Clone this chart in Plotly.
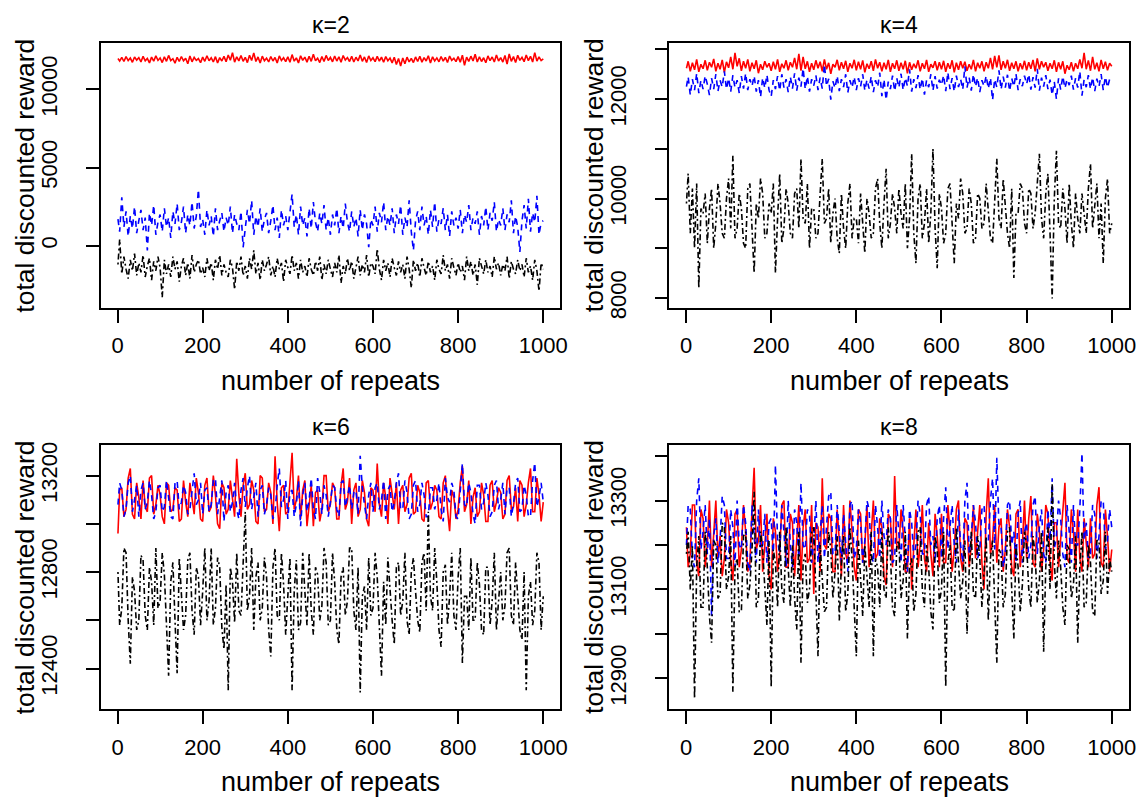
import plotly.graph_objects as go
from plotly.subplots import make_subplots

# x positions (every 5th repeat)
repeats = [1] + list(range(5, 1001, 5))

# kappa = 2
k2_red = [11980, 11820, 12060, 11790, 12100, 11850, 12010, 11740, 12080, 11880,
          12040, 11760, 12120, 11830, 11990, 11700, 12070, 11810, 12150, 11860,
          12020, 11720, 12090, 11800, 12180, 11850, 11970, 11680, 12060, 11790,
          12110, 11830, 12000, 11650, 12140, 11770, 12050, 11860, 11980, 11710,
          12070, 11800, 12160, 11840, 12030, 11760, 12100, 11690, 12040, 11820,
          12120, 11780, 12210, 11870, 12350, 11750, 12090, 11830, 12170, 11800,
          12060, 11720, 12190, 11850, 12340, 11790, 12080, 11700, 12130, 11840,
          12000, 11760, 12110, 11820, 12050, 11690, 12150, 11850, 12030, 11780,
          12090, 11740, 12230, 11810, 12020, 11700, 12160, 11860, 12070, 11750,
          12130, 11800, 12260, 11830, 12000, 11720, 12110, 11790, 12180, 11850,
          12050, 11770, 12140, 11820, 12090, 11740, 12170, 11880, 12040, 11790,
          12120, 11760, 12060, 11830, 12200, 11800, 12080, 11720, 12150, 11850,
          12030, 11780, 12120, 11810, 12070, 11740, 12100, 11840, 12010, 11700,
          12060, 11600, 11980, 11500, 12020, 11640, 12070, 11760, 11990, 11720,
          12080, 11790, 12130, 11750, 12040, 11820, 12160, 11700, 12090, 11830,
          12020, 11770, 12110, 11810, 12060, 11730, 12140, 11860, 12000, 11780,
          12100, 11740, 12190, 11550, 12070, 11800, 12130, 11820, 12250, 11760,
          12090, 11790, 12030, 11710, 12150, 11840, 12080, 11760, 12210, 11820,
          12040, 11750, 12170, 11620, 12270, 11800, 12100, 11730, 12190, 11860,
          12060, 11780, 12210, 11840, 12120, 11760, 12360, 11810, 12090, 11850,
          11960]
k2_blue = [1700, 900, 3100, 1200, 2200, 600, 1900, 1100, 2500, 800,
           1600, 2300, 1000, 1800, -300, 2100, 1300, 2600, 700, 1500,
           2000, 900, 2400, 1200, 1800, 500, 2200, 1400, 2700, 1000,
           1500, 2500, 800, 2000, 1300, 2800, 1100, 1900, 3600, 1200,
           1700, 700, 2300, 1300, 1900, 600, 2400, 1000, 1600, 2100,
           900, 1800, 1300, 2500, 800, 2000, 1400, 1000, 2200, -100,
           1100, 2300, 1400, 2900, 700, 1900, 1200, 2400, 900, 1700,
           2100, 800, 1600, 2600, 1000, 1800, 500, 2300, 1300, 1900,
           1000, 2200, 3300, 1200, 2000, 700, 2500, 1300, 1800, 600,
           2400, 1100, 2800, 1500, 900, 2100, 1400, 2600, 1000, 1800,
           700, 2000, 1300, 2400, 800, 1900, 1100, 2700, 1500, 900,
           2200, 1200, 1800, 600, 2300, 1000, 2000, 1400, -100, 1700,
           1300, 2500, 900, 2100, 1500, 2800, 1000, 1900, 1300, 2400,
           800, 2000, 1400, 2600, 700, 1800, 1200, 2900, 900, -300,
           1600, 2200, 1000, 2500, 1300, 1900, 700, 2300, 1200, 2800,
           900, 1700, 1400, 2400, 1000, 2000, 600, 2200, 1300, 1800,
           1100, 2300, 800, 2000, 1500, 2600, 1000, 1800, 1400, 2200,
           700, 1900, 1300, 2500, 1000, 2100, 1600, 2800, 900, 1700,
           1300, 2400, 1000, 2000, 1500, 2900, 800, 1900, 1200, -400,
           1600, 2600, 1100, 3000, 900, 2100, 1500, 3200, 700, 1500,
           1600]
k2_black = [-1200, 400, -1800, -700, -1500, -2100, -900, -1600, -500, -1900,
            -1100, -1700, -600, -2000, -1300, -800, -2200, -1000, -1600, -700,
            -1400, -3300, -900, -1800, -1200, -2000, -700, -1500, -1000, -2300,
            -1300, -800, -1900, -1100, -2100, -600, -1700, -1200, -900, -1800,
            -1400, -2000, -800, -1600, -1100, -2200, -900, -1500, -600, -1900,
            -1200, -1700, -2000, -900, -1400, -2800, -1000, -1600, -700, -1900,
            -1300, -2100, -800, -1500, -300, -1800, -1100, -2200, -900, -1600,
            -1200, -700, -1900, -1300, -2000, -800, -1500, -1100, -2300, -900,
            -1400, -1800, -600, -1600, -1100, -2100, -900, -1700, -1300, -2000,
            -800, -1500, -1900, -1000, -1600, -700, -2200, -1200, -1800, -900,
            -1500, -2000, -1100, -1700, -600, -2400, -1300, -1800, -800, -1600,
            -1000, -2100, -1400, -700, -1900, -1200, -1700, -600, -2000, -1100,
            -1300, -1800, -200, -1500, -2200, -900, -1600, -1100, -2000, -800,
            -1400, -1900, -1000, -1700, -1200, -2100, -700, -1500, -2700, -900,
            -1600, -1100, -2000, -800, -1400, -1900, -1000, -1700, -1300, -2200,
            -900, -1500, -1800, -600, -1600, -1200, -2100, -800, -1400, -1900,
            -1100, -1700, -1300, -2200, -700, -1600, -1000, -1900, -1200, -2500,
            -800, -1400, -1800, -900, -1700, -1300, -2000, -700, -1500, -1100,
            -1900, -1200, -1600, -700, -2100, -1000, -1500, -1800, -900, -1600,
            -1200, -2000, -800, -1700, -1300, -2200, -900, -1600, -2900, -1100,
            -1500]

# kappa = 4
k4_red = [12620, 12760, 12560, 12730, 12590, 12800, 12550, 12700, 12610, 12780,
          12580, 12740, 12640, 12810, 12560, 12720, 12600, 12790, 12540, 12750,
          12630, 12850, 12600, 12930, 12660, 12820, 12570, 12760, 12620, 12800,
          12560, 12730, 12610, 12780, 12520, 12700, 12590, 12760, 12640, 12720,
          12570, 12750, 12600, 12800, 12550, 12710, 12620, 12780, 12580, 12740,
          12640, 12830, 12600, 12910, 12570, 12850, 12610, 12760, 12550, 12720,
          12590, 12780, 12620, 12750, 12560, 12800, 12600, 12730, 12510, 12700,
          12640, 12790, 12580, 12740, 12610, 12770, 12550, 12720, 12620, 12790,
          12580, 12750, 12600, 12780, 12540, 12710, 12610, 12760, 12570, 12800,
          12620, 12740, 12560, 12730, 12600, 12790, 12550, 12720, 12610, 12780,
          12570, 12730, 12600, 12770, 12520, 12740, 12590, 12710, 12620, 12780,
          12560, 12720, 12610, 12790, 12550, 12700, 12630, 12760, 12580, 12740,
          12600, 12770, 12550, 12720, 12610, 12780, 12540, 12730, 12590, 12760,
          12620, 12750, 12570, 12700, 12600, 12790, 12560, 12730, 12620, 12760,
          12560, 12740, 12620, 12830, 12600, 12870, 12640, 12880, 12590, 12760,
          12620, 12790, 12570, 12730, 12610, 12760, 12560, 12720, 12600, 12770,
          12580, 12740, 12610, 12790, 12560, 12820, 12600, 12760, 12640, 12740,
          12570, 12720, 12610, 12780, 12550, 12740, 12600, 12760, 12510, 12680,
          12590, 12740, 12560, 12720, 12610, 12800, 12620, 12930, 12600, 12780,
          12570, 12850, 12600, 12730, 12560, 12790, 12610, 12750, 12580, 12720,
          12660]
k4_blue = [12250, 12450, 12080, 12400, 12180, 12520, 12120, 12380, 12200, 12470,
           12300, 12080, 12420, 12200, 12500, 12160, 12380, 12240, 12560, 12200,
           12420, 12150, 12480, 12230, 12380, 12120, 12460, 12210, 12520, 12180,
           12400, 12260, 12470, 12150, 12380, 12040, 12430, 12220, 12490, 12180,
           12050, 12380, 12200, 12460, 12170, 12500, 12230, 12400, 12140, 12450,
           12210, 12520, 12170, 12430, 12250, 12620, 12200, 12460, 12150, 12400,
           12270, 12480, 12180, 12430, 12210, 12700, 12260, 12410, 11990, 12360,
           12220, 12470, 12160, 12400, 12240, 12500, 12130, 12380, 12230, 12450,
           12180, 12420, 12250, 12500, 12170, 12390, 12210, 12460, 12140, 12380,
           12240, 12530, 12060, 12400, 11980, 12350, 12200, 12470, 12160, 12420,
           12230, 12510, 12180, 12430, 12260, 12600, 12150, 12400, 12220, 12480,
           12190, 12420, 12090, 12380, 12240, 12500, 12170, 12460, 12210, 12390,
           12280, 12480, 12160, 12540, 12200, 12420, 12150, 12470, 12240, 12400,
           12190, 12660, 12230, 12440, 12170, 12500, 12250, 12430, 12140, 12380,
           12260, 12470, 12210, 12430, 11980, 12400, 12240, 12580, 12190, 12450,
           12230, 12490, 12160, 12420, 12250, 12510, 12180, 12400, 12260, 12470,
           12300, 12500, 12190, 12440, 12230, 12610, 12170, 12430, 12250, 12480,
           12200, 12390, 12080, 12350, 12000, 12420, 12190, 12460, 12220, 12400,
           12280, 12470, 12190, 12420, 12230, 12560, 12070, 12390, 12240, 12480,
           12200, 12440, 12160, 12410, 12250, 12500, 12180, 12450, 12230, 12400,
           12350]
k4_black = [9900, 10500, 9300, 10200, 9000, 10300, 8200, 9800, 9700, 10100,
            9100, 9800, 10200, 9000, 9500, 10300, 9900, 9300, 9200, 10000,
            10400, 9400, 10860, 9200, 9400, 10100, 9800, 9100, 9000, 10200,
            10300, 9400, 8500, 9900, 9600, 10400, 10100, 9200, 9300, 9900,
            9700, 10300, 8500, 9600, 10500, 9100, 9400, 10200, 9900, 9300,
            9200, 10100, 10200, 9400, 10800, 9600, 9500, 10300, 9000, 9800,
            9800, 9200, 9300, 10100, 10800, 9500, 9600, 10200, 9100, 9700,
            10000, 9200, 8900, 10100, 9400, 9000, 9900, 10300, 9200, 9600,
            9600, 9100, 10100, 9500, 8900, 10000, 9700, 9200, 9300, 10200,
            10400, 9500, 9000, 9900, 10600, 9200, 9500, 10100, 9800, 9300,
            10200, 9700, 9400, 10300, 9000, 9600, 10900, 9300, 8700, 10000,
            10300, 9200, 9500, 10200, 9100, 9700, 11000, 9400, 8600, 10100,
            9800, 9100, 9300, 10200, 10300, 9500, 8700, 9900, 9600, 10400,
            10100, 9300, 9400, 10200, 9900, 9100, 9200, 10100, 10000, 9400,
            9500, 10300, 9800, 9200, 9100, 10100, 10800, 9600, 9400, 10400,
            9900, 9300, 9000, 10200, 8400, 9700, 9700, 10300, 10200, 9500,
            9300, 10200, 10100, 9400, 9700, 10300, 10900, 9600, 9200, 10100,
            10500, 9300, 7990, 10000, 10960, 9500, 9400, 10200, 9800, 9100,
            10300, 9500, 9000, 10100, 9600, 9300, 10100, 9700, 9300, 10200,
            10700, 9400, 9800, 10300, 9200, 9900, 8700, 10000, 10400, 9300,
            9500]

# kappa = 6
k6_red = [12960, 13140, 13150, 13030, 13060, 13190, 13230, 13040, 13020, 13170,
          13110, 13020, 13180, 13070, 13050, 13190, 13200, 13040, 13080, 13160,
          13120, 13030, 13000, 13170, 13160, 13050, 13060, 13150, 13140, 13010,
          13020, 13180, 13090, 13030, 13170, 13100, 13040, 13190, 13130, 13020,
          13010, 13160, 13190, 13050, 13070, 13200, 13120, 13000, 12980, 13170,
          13150, 13040, 13060, 13180, 13100, 13030, 13270, 13120, 13030, 13160,
          13210, 13060, 13080, 13180, 13140, 13010, 13000, 13200, 13190, 13050,
          13060, 13170, 13130, 13000, 13280, 13090, 12970, 13150, 13160, 13040,
          13050, 13190, 13295, 13060, 13100, 13200, 13020, 13140, 13180, 12990,
          13070, 13160, 12990, 13130, 13140, 13010, 13060, 13200, 13200, 13050,
          13080, 13170, 13150, 13020, 13020, 13160, 13230, 13060, 13090, 13190,
          13000, 13140, 13170, 13030, 13060, 13180, 13130, 13020, 12990, 13150,
          13140, 13050, 13250, 13080, 13030, 13170, 13110, 13000, 13190, 13120,
          13060, 13170, 13000, 13140, 13160, 13050, 13080, 13190, 13210, 13040,
          13050, 13160, 13130, 13020, 13010, 13170, 13180, 13060, 13090, 13160,
          13140, 13030, 13020, 13170, 13200, 13060, 12970, 13140, 13110, 13020,
          13060, 13170, 13240, 13050, 13080, 13180, 13000, 13110, 13150, 13030,
          13050, 13170, 13120, 13010, 13010, 13160, 13180, 13050, 13090, 13150,
          13130, 13020, 13040, 13180, 13200, 13060, 13070, 13150, 13010, 13180,
          13160, 13030, 13080, 13170, 13230, 13050, 13050, 13190, 13120, 13010,
          13090]
k6_blue = [13080, 13170, 13140, 13030, 13060, 13170, 13200, 13050, 13100, 13160,
           13030, 13140, 13170, 13060, 13090, 13180, 13120, 13020, 13050, 13150,
           13160, 13050, 13070, 13180, 13110, 13030, 13020, 13170, 13180, 13060,
           13090, 13160, 13130, 13040, 13060, 13150, 13210, 13080, 13100, 13170,
           13040, 13140, 13150, 13050, 13080, 13180, 13190, 13040, 13120, 13180,
           13010, 13130, 13160, 13050, 13090, 13170, 13060, 13020, 13140, 13190,
           13070, 13150, 13200, 13060, 13110, 13170, 13030, 13140, 13160, 13040,
           13080, 13150, 13120, 13020, 13050, 13160, 13230, 13070, 13100, 13180,
           13020, 13130, 13140, 13030, 13080, 13180, 12990, 13120, 13170, 13050,
           13100, 13190, 13060, 13020, 13190, 13130, 13040, 13160, 13120, 13030,
           13090, 13160, 13150, 13060, 13030, 13170, 13180, 13070, 13110, 13160,
           13060, 13130, 13140, 13040, 13282, 13150, 13080, 13020, 13120, 13170,
           13050, 13150, 13170, 13060, 13100, 13180, 13020, 13140, 13160, 13050,
           13090, 13170, 13210, 13060, 13060, 13180, 13130, 13020, 13040, 13160,
           13180, 13050, 13080, 13170, 13120, 13030, 13030, 13150, 13150, 13060,
           13100, 13170, 13060, 13010, 13190, 13110, 13090, 13170, 13140, 13030,
           13020, 13150, 13250, 13080, 13070, 13170, 13130, 13040, 13000, 13160,
           13160, 13060, 13090, 13170, 13120, 13030, 13050, 13160, 13180, 13060,
           13100, 13170, 13040, 13150, 13150, 13030, 13080, 13170, 13190, 13050,
           13060, 13160, 13120, 13030, 13030, 13180, 13254, 13070, 13110, 13170,
           13090]
k6_black = [12800, 12580, 12650, 12900, 12880, 12600, 12420, 12780, 12720, 12560,
            12600, 12870, 12850, 12620, 12560, 12820, 12760, 12580, 12900, 12650,
            12680, 12880, 12790, 12560, 12370, 12760, 12840, 12600, 12380, 12860,
            12700, 12560, 12620, 12850, 12880, 12640, 12540, 12820, 12780, 12580,
            12720, 12900, 12600, 12680, 12900, 12580, 12650, 12860, 12820, 12570,
            12480, 12750, 12310, 12820, 12760, 12590, 12880, 12640, 12620, 12870,
            13050, 12640, 12700, 12900, 12560, 12780, 12840, 12600, 12650, 12860,
            12780, 12560, 12450, 12820, 12900, 12620, 12600, 12880, 12750, 12540,
            12680, 12860, 12310, 12720, 12850, 12560, 12590, 12880, 12720, 12580,
            12880, 12640, 12540, 12820, 12790, 12600, 12660, 12900, 12840, 12580,
            12600, 12880, 12760, 12560, 12500, 12780, 12820, 12620, 12680, 12900,
            12900, 12640, 12560, 12820, 12301, 12700, 12740, 12560, 12860, 12620,
            12650, 12880, 12780, 12570, 12370, 12760, 12580, 12860, 12720, 12600,
            12500, 12820, 12840, 12620, 12680, 12880, 12600, 12540, 12800, 12860,
            12720, 12600, 12550, 12840, 12880, 12640, 13050, 12700, 12640, 12900,
            12760, 12560, 12490, 12800, 12830, 12580, 12700, 12880, 12620, 12560,
            12780, 12900, 12423, 12700, 12700, 12560, 12860, 12600, 12600, 12840,
            12750, 12560, 12540, 12820, 12820, 12580, 12680, 12880, 12560, 12700,
            12800, 12600, 12660, 12880, 12900, 12620, 12580, 12840, 12720, 12560,
            12520, 12800, 12310, 12700, 12760, 12580, 12640, 12880, 12840, 12560,
            12700]

# kappa = 8
k8_red = [13240, 13150, 13180, 13290, 13290, 13160, 13130, 13280, 13260, 13150,
          13200, 13300, 13150, 13230, 13300, 13170, 13220, 13130, 13170, 13280,
          13250, 13160, 13120, 13270, 13280, 13150, 13190, 13290, 13230, 13140,
          13160, 13280, 13374, 13190, 13210, 13290, 13140, 13200, 13270, 13130,
          13100, 13260, 13230, 13140, 13180, 13290, 13300, 13150, 13150, 13270,
          13250, 13130, 13200, 13290, 13120, 13240, 13280, 13160, 13170, 13290,
          13090, 13250, 13240, 13140, 13350, 13200, 13190, 13270, 13260, 13140,
          13140, 13280, 13210, 13130, 13290, 13180, 13160, 13300, 13230, 13150,
          13120, 13280, 13270, 13160, 13200, 13290, 13150, 13240, 13300, 13170,
          13180, 13260, 13240, 13130, 13110, 13270, 13260, 13150, 13355, 13200,
          13190, 13280, 13230, 13140, 13140, 13260, 13100, 13200, 13280, 13150,
          13200, 13290, 13170, 13140, 13250, 13180, 13130, 13270, 13220, 13150,
          13270, 13160, 13160, 13290, 13230, 13140, 13190, 13280, 13300, 13170,
          13140, 13260, 13250, 13150, 13200, 13290, 13170, 13230, 13290, 13160,
          13100, 13270, 13350, 13180, 13210, 13290, 13160, 13240, 13260, 13140,
          13190, 13280, 13240, 13150, 13130, 13270, 13280, 13150, 13200, 13300,
          13170, 13260, 13310, 13160, 13150, 13270, 13230, 13140, 13190, 13290,
          13270, 13160, 13120, 13250, 13250, 13150, 13210, 13290, 13340, 13170,
          13160, 13280, 13230, 13140, 13280, 13170, 13140, 13260, 13200, 13150,
          13260, 13170, 13180, 13290, 13330, 13160, 13150, 13280, 13220, 13140,
          13190]
k8_blue = [13200, 13290, 13280, 13170, 13150, 13300, 13350, 13190, 13230, 13290,
           13180, 13260, 13040, 13220, 13260, 13160, 13210, 13310, 13290, 13170,
           13170, 13280, 13240, 13150, 13300, 13200, 13190, 13290, 13250, 13160,
           13140, 13290, 13220, 13160, 13280, 13190, 13200, 13270, 13160, 13250,
           13260, 13170, 13380, 13210, 13180, 13290, 13230, 13150, 13300, 13200,
           13150, 13280, 13250, 13170, 13340, 13200, 13190, 13280, 13270, 13160,
           13210, 13300, 13160, 13230, 13290, 13170, 13240, 13310, 13320, 13180,
           13180, 13290, 13230, 13160, 13270, 13200, 13140, 13290, 13300, 13170,
           13190, 13280, 13250, 13160, 13210, 13300, 13280, 13180, 13160, 13290,
           13240, 13170, 13300, 13220, 13200, 13280, 13260, 13160, 13170, 13290,
           13230, 13160, 13290, 13200, 13140, 13280, 13250, 13170, 13200, 13300,
           13270, 13180, 13180, 13290, 13310, 13200, 13220, 13160, 13260, 13290,
           13170, 13260, 13330, 13190, 13240, 13290, 13200, 13160, 13280, 13200,
           13160, 13300, 13340, 13180, 13220, 13290, 13250, 13170, 13190, 13280,
           13290, 13200, 13210, 13300, 13350, 13190, 13396, 13240, 13240, 13150,
           13180, 13290, 13300, 13200, 13230, 13160, 13270, 13300, 13160, 13230,
           13250, 13170, 13200, 13290, 13310, 13180, 13240, 13280, 13180, 13160,
           13280, 13210, 13350, 13190, 13220, 13300, 13260, 13180, 13150, 13290,
           13230, 13160, 13290, 13200, 13200, 13280, 13407, 13210, 13250, 13170,
           13180, 13290, 13270, 13170, 13220, 13300, 13300, 13190, 13210, 13280,
           13240]
k8_black = [13180, 13230, 13100, 13200, 12854, 13150, 13220, 13060, 13060, 13230,
            13150, 13040, 12980, 13210, 13200, 13080, 13090, 13250, 13240, 13100,
            13130, 13220, 12870, 13150, 13170, 13050, 13050, 13220, 13230, 13080,
            13110, 13190, 13320, 13060, 13080, 13230, 13190, 13100, 13020, 13210,
            12880, 13190, 13160, 13060, 13230, 13100, 13070, 13240, 13140, 13060,
            13200, 13080, 13010, 13230, 12935, 13160, 13180, 13070, 13100, 13230,
            13240, 13090, 12950, 13200, 13120, 13050, 13060, 13230, 13190, 13080,
            13140, 13220, 13030, 13160, 13220, 13050, 13090, 13240, 13170, 13060,
            12950, 13210, 13110, 13040, 13200, 13130, 13060, 13230, 12950, 13170,
            13150, 13060, 13230, 13100, 13080, 13240, 13180, 13060, 13040, 13200,
            13210, 13080, 13120, 13230, 12990, 13150, 13170, 13050, 13090, 13230,
            13240, 13100, 13060, 13200, 13150, 13050, 13010, 13220, 13190, 13070,
            13100, 13230, 12880, 13160, 13200, 13060, 13050, 13240, 13160, 13080,
            13120, 13210, 13000, 13140, 13230, 13090, 13080, 13220, 13170, 13060,
            13140, 13220, 13030, 13170, 13210, 13050, 12935, 13190, 13180, 13060,
            13090, 13230, 13240, 13100, 12990, 13200, 13150, 13050, 13110, 13230,
            13200, 13100, 13060, 13220, 13180, 13070, 13120, 13230, 12960, 13150,
            13240, 13100, 13337, 13160, 13080, 13210, 13150, 13060, 13020, 13200,
            13190, 13080, 13110, 13220, 12980, 13150, 13230, 13060, 13070, 13200,
            13160, 13050, 13040, 13210, 13210, 13090, 13120, 13230, 13090, 13170,
            13140]

# tick labels
x_ticks = [0, 200, 400, 600, 800, 1000]
k2_yticks = [0, 5000, 10000]
k2_ylabels = ["0", "5000", "10000"]
k4_yticks = [8000, 9000, 10000, 11000, 12000, 13000]
k4_ylabels = ["8000", "", "10000", "", "12000", ""]
k6_yticks = [12400, 12600, 12800, 13000, 13200]
k6_ylabels = ["12400", "", "12800", "", "13200"]
k8_yticks = [12900, 13000, 13100, 13200, 13300, 13400]
k8_ylabels = ["12900", "", "13100", "", "13300", ""]

FONT = "Liberation Sans, Arial, sans-serif"
W, H = 1144, 803

panels = [
    ("κ=2", k2_red, k2_blue, k2_black, [-3972, 12989], k2_yticks, k2_ylabels),
    ("κ=4", k4_red, k4_blue, k4_black, [7802, 13133], k4_yticks, k4_ylabels),
    ("κ=6", k6_red, k6_blue, k6_black, [12230, 13329], k6_yticks, k6_ylabels),
    ("κ=8", k8_red, k8_blue, k8_black, [12830, 13426], k8_yticks, k8_ylabels),
]

# plot boxes in pixels: left, right, top, bottom
boxes = [
    (93.5, 555.7, 33.3, 302.7),
    (665.5, 1127.7, 33.3, 302.7),
    (93.5, 555.7, 441.7, 711.0),
    (665.5, 1127.7, 441.7, 711.0),
]

fig = make_subplots(rows=2, cols=2)

annotations = []
for i, (title, red, blue, black, yr, yt, yl) in enumerate(panels):
    r, c = i // 2 + 1, i % 2 + 1
    fig.add_trace(go.Scatter(x=repeats, y=red, mode="lines",
                             line=dict(color="#ff0000", width=1.6)), row=r, col=c)
    fig.add_trace(go.Scatter(x=repeats, y=blue, mode="lines",
                             line=dict(color="#0000ff", width=1.6, dash="6px,5px")), row=r, col=c)
    fig.add_trace(go.Scatter(x=repeats, y=black, mode="lines",
                             line=dict(color="black", width=1.6, dash="2px,3px,6px,3px")), row=r, col=c)

    left, right, top, bottom = boxes[i]
    sfx = "" if i == 0 else str(i + 1)
    axis_common = dict(showline=True, mirror=True, linecolor="black", linewidth=1.5,
                       ticks="outside", ticklen=13, tickwidth=1.5, tickcolor="black",
                       showgrid=False, zeroline=False,
                       tickfont=dict(family=FONT, size=22, color="black"))
    fig.update_layout({
        "xaxis" + sfx: dict(domain=[left / W, right / W], range=[-39, 1040],
                            tickvals=x_ticks, ticklabelstandoff=4, **axis_common),
        "yaxis" + sfx: dict(domain=[1 - bottom / H, 1 - top / H], range=yr,
                            tickvals=yt, ticktext=yl, tickangle=-90,
                            ticklabelstandoff=20, **axis_common),
    })

    cx = (left + right) / 2
    cy = (top + bottom) / 2
    annotations.append(dict(text=title, x=cx / W, y=1 - (top - 33.3) / H, xref="paper", yref="paper",
                            showarrow=False, xanchor="center", yanchor="top",
                            font=dict(family=FONT, size=23, color="black")))
    annotations.append(dict(text="number of repeats", x=cx / W, y=1 - (bottom + 74) / H,
                            xref="paper", yref="paper", showarrow=False,
                            xanchor="center", yanchor="middle",
                            font=dict(family=FONT, size=27, color="black")))
    annotations.append(dict(text="total discounted reward", x=(left - 76) / W, y=1 - cy / H,
                            xref="paper", yref="paper", showarrow=False, textangle=-90,
                            xanchor="center", yanchor="middle",
                            font=dict(family=FONT, size=26.5, color="black")))

fig.update_layout(width=W, height=H, margin=dict(l=0, r=0, t=0, b=0),
                  paper_bgcolor="white", plot_bgcolor="white",
                  showlegend=False, annotations=annotations)

fig.write_html("out.html")
